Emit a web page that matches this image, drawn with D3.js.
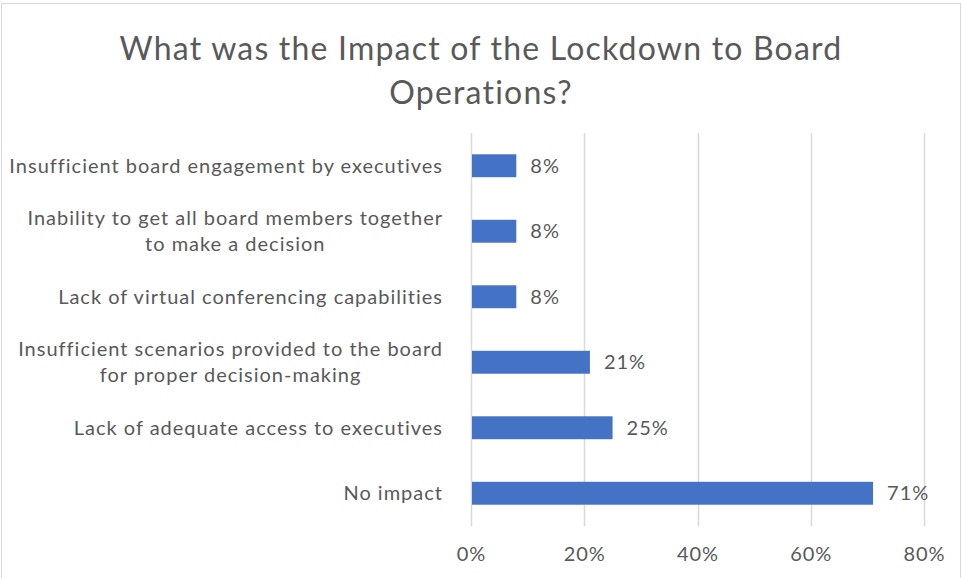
<!DOCTYPE html>
<html>
<head>
<meta charset="utf-8">
<script src="https://cdn.jsdelivr.net/npm/d3@7"></script>
<style>
  html, body { margin: 0; padding: 0; background: #fff; }
  svg { display: block; font-family: Lato, "Open Sans", sans-serif; }
</style>
</head>
<body>
<svg id="chart" width="961" height="578"></svg>
<script>
// Survey responses, top to bottom as shown
const categories = [
  ["Insufficient board engagement by executives"],
  ["Inability to get all board members together", "to make a decision"],
  ["Lack of virtual conferencing capabilities"],
  ["Insufficient scenarios provided to the board", "for proper decision-making"],
  ["Lack of adequate access to executives"],
  ["No impact"]
];
const values = [8, 8, 8, 21, 25, 71];
const tickValues = [0, 20, 40, 60, 80];
const titleLines = ["What was the Impact of the Lockdown to Board", "Operations?"];

const svg = d3.select("#chart");
const W = 961, H = 578;
const plot = { left: 471, right: 924, top: 133, bottom: 526 };
const textColor = "#595959";
const bodySize = 20, bodySpacing = 1;

// Chart frame
svg.append("rect")
  .attr("x", 1.5).attr("y", 3.5)
  .attr("width", W - 2).attr("height", H - 2)
  .attr("fill", "#fff").attr("stroke", "#d9d9d9").attr("stroke-width", 1);

// Title
svg.append("g").selectAll("text").data(titleLines).join("text")
  .attr("x", 481)
  .attr("y", (d, i) => 60 + i * 44)
  .attr("text-anchor", "middle")
  .attr("font-size", 32)
  .attr("letter-spacing", 1.2)
  .attr("fill", textColor)
  .text(d => d);

const x = d3.scaleLinear().domain([0, 80]).range([plot.left, plot.right]);
const y = d3.scaleBand()
  .domain(d3.range(categories.length))
  .range([plot.top, plot.bottom])
  .paddingInner(0.65).paddingOuter(0.325);

// Vertical gridlines
svg.append("g").selectAll("line").data(tickValues).join("line")
  .attr("x1", d => Math.round(x(d)) + 0.5).attr("x2", d => Math.round(x(d)) + 0.5)
  .attr("y1", plot.top).attr("y2", plot.bottom)
  .attr("stroke", "#d9d9d9").attr("stroke-width", 1.5);

// X axis tick labels
const xAxis = d3.axisBottom(x).tickValues(tickValues).tickFormat(d => d + "%").tickSize(0).tickPadding(0);
const gx = svg.append("g").attr("transform", `translate(0,${plot.bottom + 21})`).call(xAxis);
gx.select(".domain").remove();
gx.selectAll("text")
  .attr("font-family", "Lato, 'Open Sans', sans-serif")
  .attr("font-size", bodySize)
  .attr("letter-spacing", bodySpacing)
  .attr("fill", textColor);

// Bars
svg.append("g").selectAll("rect").data(values).join("rect")
  .attr("x", x(0) + 1)
  .attr("y", (d, i) => y(i))
  .attr("width", d => x(d) - x(0) - 1)
  .attr("height", y.bandwidth())
  .attr("fill", "#4472c4");

// Value labels
svg.append("g").selectAll("text").data(values).join("text")
  .attr("x", d => x(d) + 14)
  .attr("y", (d, i) => y(i) + y.bandwidth() / 2)
  .attr("dy", "0.35em")
  .attr("font-size", bodySize)
  .attr("letter-spacing", bodySpacing)
  .attr("fill", textColor)
  .text(d => d + "%");

// Category labels: multi-line blocks centred within themselves, right edge at the axis
const labelRight = 443;
const lineGap = 26;
const catG = svg.append("g")
  .attr("font-size", bodySize)
  .attr("letter-spacing", bodySpacing)
  .attr("fill", textColor);
categories.forEach((lines, i) => {
  const cy = y(i) + y.bandwidth() / 2;
  const g = catG.append("g");
  const texts = g.selectAll("text").data(lines).join("text")
    .attr("y", (d, j) => cy + (j - (lines.length - 1) / 2) * lineGap)
    .attr("dy", "0.35em")
    .attr("text-anchor", "start")
    .text(d => d);
  const widths = texts.nodes().map(n => n.getComputedTextLength());
  const maxW = d3.max(widths);
  texts.attr("x", (d, j) => labelRight - maxW + (maxW - widths[j]) / 2);
});
</script>
</body>
</html>
